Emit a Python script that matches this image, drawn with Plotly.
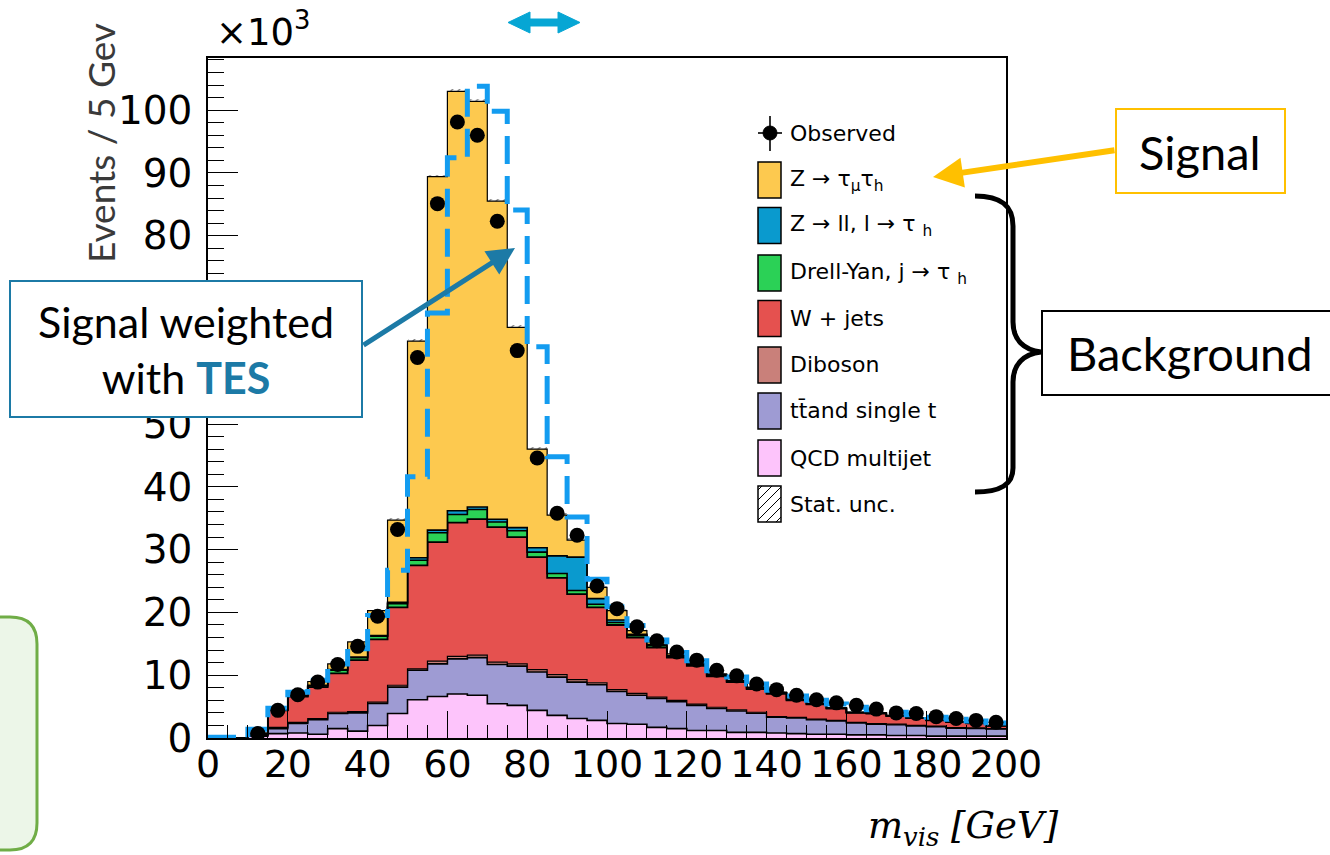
import plotly.graph_objects as go

# ---------------- data (values in thousands of events per 5 GeV bin) ----------------
bin_low = [0, 5, 10, 15, 20, 25, 30, 35, 40, 45, 50, 55, 60, 65, 70, 75, 80, 85, 90, 95,
           100, 105, 110, 115, 120, 125, 130, 135, 140, 145, 150, 155, 160, 165, 170, 175,
           180, 185, 190, 195]
bin_width = 5

qcd = [0, 0, 0.3, 0.7, 0.8, 0.6, 1.5, 1.1, 2.0, 3.9, 6.1, 6.6, 7.0, 6.8, 5.45, 5.2, 4.4, 3.6, 3.1, 2.8,
       2.3, 2.2, 1.7, 1.5, 1.2, 1.2, 0.9, 0.9, 0.8, 0.7, 0.6, 0.6, 0.5, 0.5, 0.4, 0.4, 0.3, 0.3, 0.3, 0.3]
ttbar = [0, 0, 0.15, 0.8, 1.5, 2.3, 2.4, 2.9, 3.5, 4.2, 4.7, 5.2, 5.6, 6.0, 6.25, 6.25, 6.1, 6.1, 5.8, 5.7,
         5.1, 4.6, 4.6, 4.3, 4.0, 3.5, 3.4, 3.05, 2.5, 2.5, 2.3, 2.1, 1.9, 1.7, 1.7, 1.5, 1.5, 1.28, 1.22, 1.13]
diboson = [0, 0, 0.05, 0.2, 0.2, 0.2, 0.2, 0.2, 0.2, 0.3, 0.2, 0.45, 0.4, 0.4, 0.4, 0.35, 0.4, 0.4, 0.4, 0.3,
           0.3, 0.3, 0.2, 0.2, 0.2, 0.2, 0.2, 0.15, 0.1, 0.1, 0.1, 0.1, 0.1, 0.1, 0.1, 0.1, 0.1, 0.07, 0.08, 0.07]
wjets = [0, 0, 0.2, 2.7, 4.1, 5.0, 6.2, 8.2, 10.0, 12.4, 16.5, 18.95, 21.3, 21.65, 21.5, 20.2, 17.9, 15.4, 13.6, 12.0,
         10.3, 8.9, 7.9, 6.8, 6.1, 4.9, 4.4, 3.7, 3.65, 2.7, 2.35, 1.88, 1.5, 1.6, 1.3, 1.15, 0.92, 0.87, 0.73, 0.43]
dy_jtau = [0, 0, 0, 0.05, 0.1, 0.2, 0.5, 0.4, 0.5, 0.6, 0.8, 1.5, 1.3, 1.55, 0.8, 1.0, 0.8, 0.7, 0.6, 0.5,
           0.4, 0.3, 0.3, 0.2, 0.2, 0.15, 0.1, 0.1, 0.1, 0.1, 0.07, 0.06, 0.05, 0.05, 0.05, 0.05, 0.04, 0.04, 0.03, 0.03]
zll = [0, 0, 0, 0.05, 0.05, 0.1, 0.1, 0.1, 0.1, 0.2, 0.4, 0.4, 0.6, 0.4, 0.45, 0.5, 0.7, 2.8, 5.3, 0.9,
       0.4, 0.2, 0.2, 0.1, 0.1, 0.1, 0.1, 0.1, 0.05, 0.05, 0.04, 0.03, 0.03, 0.02, 0.02, 0.02, 0.02, 0.02, 0.02, 0.02]
ztt = [0, 0, 0.05, 0, 0.05, 0.6, 0.9, 2.4, 4.0, 13.1, 34.5, 56.3, 66.8, 64.6, 50.65, 31.9, 15.7, 6.5, 2.7, 1.8,
       1.5, 0.6, 0.4, 0.3, 0.2, 0.15, 0.1, 0.1, 0.1, 0.05, 0.04, 0.03, 0.02, 0.03, 0.03, 0.03, 0.02, 0.02, 0.02, 0.02]
stat_unc = [0, 0, 0.05, 0.15, 0.15, 0.15, 0.15, 0.15, 0.15, 0.3, 0.3, 0.3, 0.3, 0.3, 0.3, 0.3, 0.3, 0.3, 0.3, 0.2,
            0.2, 0.2, 0.2, 0.2, 0.2, 0.2, 0.12, 0.12, 0.12, 0.12, 0.12, 0.12, 0.12, 0.12, 0.12, 0.12, 0.12, 0.12, 0.12, 0.12]
observed = [None, None, 0.7, 4.4, 6.9, 8.9, 11.7, 14.6, 19.4, 33.2, 60.6, 85.1, 98.1, 96.0, 82.3, 61.7, 44.6, 35.8, 32.3, 24.2,
            20.6, 17.7, 15.5, 13.7, 12.4, 10.8, 9.9, 8.6, 7.7, 6.8, 6.1, 5.6, 5.2, 4.6, 4.0, 3.9, 3.4, 3.1, 2.8, 2.5]
signal_tes = [0.1, 0.1, 1.4, 4.75, 7.3, 9.2, 11.8, 14.2, 19.5, 26.7, 41.6, 67.7, 92.4, 103.8, 99.8, 84.1, 62.3, 44.8, 35.2, 25.3,
              20.9, 17.9, 15.6, 13.6, 12.3, 10.7, 9.7, 8.6, 7.6, 6.7, 6.0, 5.4, 4.9, 4.5, 4.1, 3.7, 3.3, 3.0, 2.7, 2.4]

y_tick_vals = [0, 10, 20, 30, 40, 50, 60, 70, 80, 90, 100]
y_tick_text = ["0", "10", "20", "30", "40", "50", "", "", "80", "90", "100"]  # 60, 70 hidden behind callout

legend_labels = ["Observed", "Z → τ<sub>μ</sub>τ<sub>h</sub>", "Z → ll, l → τ <sub>h</sub>",
                 "Drell-Yan, j → τ <sub>h</sub>", "W + jets", "Diboson", "tt\u0304and single t",
                 "QCD multijet", "Stat. unc."]

# ---------------- styles ----------------
C_ZTT = "#fdc94f"
C_ZLL = "#0a9ace"
C_DY = "#2bd156"
C_W = "#e5514f"
C_VV = "#c9807a"
C_TT = "#9e9bd3"
C_QCD = "#fdc4fb"
C_TES = "#139cf0"
TEAL = "#1c7aa6"
GOLD = "#ffc000"

# plot area in pixels
L, R, T, B = 208, 1006, 58, 738


def px(x):
    return (x - L) / (R - L)


def py(y):
    return (B - y) / (B - T)


def path(points, close=False):
    s = "M " + " L ".join(f"{px(x):.5f},{py(y):.5f}" for x, y in points)
    return s + (" Z" if close else "")


edges_x = bin_low + [bin_low[-1] + bin_width]
centers = [b + bin_width / 2 for b in bin_low]


def step(vals):
    return list(vals) + [vals[-1]]


fig = go.Figure()

stack = [(qcd, C_QCD, 1.6), (ttbar, C_TT, 1.6), (diboson, C_VV, 1.2), (wjets, C_W, 1.8),
         (dy_jtau, C_DY, 1.6), (zll, C_ZLL, 1.6), (ztt, C_ZTT, 1.2)]
cum = [0.0] * len(bin_low)
for i, (vals, col, lw) in enumerate(stack):
    cum = [c + v for c, v in zip(cum, vals)]
    fig.add_trace(go.Scatter(
        x=edges_x, y=step(cum), mode="lines",
        line=dict(shape="hv", color="black", width=lw),
        fill="tozeroy" if i == 0 else "tonexty", fillcolor=col,
        showlegend=False, hoverinfo="skip"))

total = cum
fig.add_trace(go.Bar(
    x=centers, y=[2 * u for u in stat_unc], base=[t - u for t, u in zip(total, stat_unc)],
    width=bin_width,
    marker=dict(color="rgba(0,0,0,0)", line=dict(width=0),
                pattern=dict(shape="/", fgcolor="black", bgcolor="rgba(0,0,0,0)", size=5, solidity=0.25)),
    showlegend=False, hoverinfo="skip"))

fig.add_trace(go.Scatter(
    x=edges_x, y=step(signal_tes), mode="lines",
    line=dict(shape="hv", color=C_TES, width=5, dash="28px,12px"),
    showlegend=False, hoverinfo="skip"))

fig.add_trace(go.Scatter(
    x=centers, y=observed, mode="markers",
    marker=dict(color="black", size=15, symbol="circle"),
    showlegend=False, hoverinfo="skip"))

fig.update_layout(
    width=1330, height=855,
    margin=dict(l=L, r=1330 - R, t=T, b=855 - B),
    paper_bgcolor="white", plot_bgcolor="white",
    showlegend=False, bargap=0,
    xaxis=dict(range=[0, 200], dtick=20, tick0=0, ticks="inside", ticklen=27, tickwidth=1.3,
               tickcolor="black", showline=True, linecolor="black", linewidth=1.5, mirror=True,
               showgrid=False, zeroline=False, ticklabelstandoff=-8,
               tickfont=dict(family="DejaVu Sans", size=38, color="black"),
               minor=dict(dtick=5, ticks="inside", ticklen=13, tickwidth=1, tickcolor="black", showgrid=False)),
    yaxis=dict(range=[0, 108.3], tickmode="array", tickvals=y_tick_vals, ticktext=y_tick_text,
               ticks="inside", ticklen=30, tickwidth=1.3,
               tickcolor="black", showline=True, linecolor="black", linewidth=1.5, mirror=True,
               showgrid=False, zeroline=False, ticklabelstandoff=6,
               tickfont=dict(family="DejaVu Sans", size=39, color="black"),
               minor=dict(dtick=2, tick0=0, ticks="inside", ticklen=16, tickwidth=1, tickcolor="black",
                          showgrid=False)),
)

shapes = []
ann = []

# ---- manual legend (ROOT-style large swatches) ----
leg_y = [133, 180, 225.5, 273, 318.5, 365, 411, 458, 504]
sw_x0, sw_x1 = 758, 781
swatch_cols = [None, C_ZTT, C_ZLL, C_DY, C_W, C_VV, C_TT, C_QCD, None]
for k, (yc, lab) in enumerate(zip(leg_y, legend_labels)):
    ann.append(dict(x=px(788), y=py(yc), xref="paper", yref="paper", text=lab, showarrow=False,
                    xanchor="left", yanchor="middle", font=dict(family="DejaVu Sans", size=22, color="black")))
    if k == 0:
        shapes.append(dict(type="line", xref="paper", yref="paper", x0=px(770), x1=px(770),
                           y0=py(yc - 17), y1=py(yc + 18), line=dict(color="black", width=1.6)))
        shapes.append(dict(type="line", xref="paper", yref="paper", x0=px(758), x1=px(782),
                           y0=py(yc), y1=py(yc), line=dict(color="black", width=1.6)))
        shapes.append(dict(type="circle", xref="paper", yref="paper", x0=px(763), x1=px(777),
                           y0=py(yc - 7), y1=py(yc + 7), fillcolor="black", line=dict(color="black", width=1)))
    else:
        y0, y1 = yc - 18, yc + 18
        fillc = swatch_cols[k] if swatch_cols[k] else "white"
        shapes.append(dict(type="rect", xref="paper", yref="paper", x0=px(sw_x0), x1=px(sw_x1),
                           y0=py(y1), y1=py(y0), fillcolor=fillc, line=dict(color="black", width=1.5),
                           layer="above"))
        if swatch_cols[k] is None:
            c = sw_x0 + y0 + 4
            while c < sw_x1 + y1:
                xa = max(sw_x0, c - y1)
                xb = min(sw_x1, c - y0)
                if xb > xa:
                    shapes.append(dict(type="line", xref="paper", yref="paper",
                                       x0=px(xa), y0=py(c - xa), x1=px(xb), y1=py(c - xb),
                                       line=dict(color="black", width=1), layer="above"))
                c += 10

# ---- x10^3 and axis titles ----
ann.append(dict(x=px(214), y=py(30), xref="paper", yref="paper", text="×10<sup>3</sup>", showarrow=False,
                xanchor="left", yanchor="middle", font=dict(family="DejaVu Sans", size=37, color="black")))
ann.append(dict(x=px(100), y=py(143), xref="paper", yref="paper", text="Events / 5 Gev", showarrow=False,
                textangle=-90, xanchor="center", yanchor="middle",
                font=dict(family="Lato", size=37, color="#3a3a3a")))
ann.append(dict(x=px(866), y=py(828), xref="paper", yref="paper", text="<i>m<sub>vis</sub> [GeV]</i>",
                showarrow=False, xanchor="left", yanchor="middle",
                font=dict(family="DejaVu Serif", size=37, color="black")))

# ---- TES callout ----
shapes.append(dict(type="rect", xref="paper", yref="paper", x0=px(10), x1=px(362), y0=py(417), y1=py(281),
                   fillcolor="white", line=dict(color=TEAL, width=2), layer="above"))
ann.append(dict(x=px(186), y=py(349), xref="paper", yref="paper",
                text=f"Signal weighted<br>with <b><span style='color:{TEAL}'>TES</span></b>",
                showarrow=False, xanchor="center", yanchor="middle", align="center",
                font=dict(family="Lato", size=43, color="black")))
ann.append(dict(x=px(515), y=py(248), xref="paper", yref="paper", text="", showarrow=True,
                ax=362 - 515, ay=346 - 248, arrowhead=2, arrowsize=1.1, arrowwidth=5,
                arrowcolor=TEAL, standoff=0))

# ---- Signal callout ----
shapes.append(dict(type="rect", xref="paper", yref="paper", x0=px(1116), x1=px(1285), y0=py(193), y1=py(109),
                   fillcolor="white", line=dict(color=GOLD, width=2), layer="above"))
ann.append(dict(x=px(1200), y=py(152), xref="paper", yref="paper", text="Signal", showarrow=False,
                xanchor="center", yanchor="middle", font=dict(family="Lato", size=47, color="black")))
ann.append(dict(x=px(933), y=py(177), xref="paper", yref="paper", text="", showarrow=True,
                ax=1116 - 933, ay=150 - 177, arrowhead=2, arrowsize=1.0, arrowwidth=6,
                arrowcolor=GOLD, standoff=0))

# ---- Background callout and brace ----
shapes.append(dict(type="rect", xref="paper", yref="paper", x0=px(1042), x1=px(1345), y0=py(395), y1=py(311),
                   fillcolor="white", line=dict(color="black", width=2), layer="above"))
ann.append(dict(x=px(1190), y=py(353), xref="paper", yref="paper", text="Background", showarrow=False,
                xanchor="center", yanchor="middle", font=dict(family="Lato", size=47, color="black")))

brace = (f"M {px(975):.5f},{py(196):.5f} "
         f"C {px(1000):.5f},{py(196):.5f} {px(1013):.5f},{py(205):.5f} {px(1013):.5f},{py(226):.5f} "
         f"L {px(1013):.5f},{py(322):.5f} "
         f"C {px(1013):.5f},{py(340):.5f} {px(1024):.5f},{py(350):.5f} {px(1041):.5f},{py(352):.5f} "
         f"C {px(1024):.5f},{py(354):.5f} {px(1013):.5f},{py(364):.5f} {px(1013):.5f},{py(382):.5f} "
         f"L {px(1013):.5f},{py(468):.5f} "
         f"C {px(1013):.5f},{py(485):.5f} {px(1000):.5f},{py(492):.5f} {px(975):.5f},{py(492):.5f}")
shapes.append(dict(type="path", xref="paper", yref="paper", path=brace,
                   line=dict(color="black", width=5), layer="above"))

# ---- cyan double arrow at top ----
dbl = [(508, 22.5), (530, 12), (530, 19), (558, 19), (558, 12), (580, 22.5),
       (558, 33), (558, 26), (530, 26), (530, 33)]
shapes.append(dict(type="path", xref="paper", yref="paper", path=path(dbl, close=True),
                   fillcolor="#06a6d4", line=dict(color="#06a6d4", width=1), layer="above"))

# ---- green rounded box at left ----
gbox = (f"M {px(-10):.5f},{py(617):.5f} L {px(10):.5f},{py(617):.5f} "
        f"Q {px(37):.5f},{py(617):.5f} {px(37):.5f},{py(644):.5f} "
        f"L {px(37):.5f},{py(823):.5f} Q {px(37):.5f},{py(850):.5f} {px(10):.5f},{py(850):.5f} "
        f"L {px(-10):.5f},{py(850):.5f} Z")
shapes.append(dict(type="path", xref="paper", yref="paper", path=gbox,
                   fillcolor="#ecf6e8", line=dict(color="#70ad47", width=3), layer="above"))

fig.update_layout(shapes=shapes, annotations=ann)

fig.write_html("out.html", config={"displayModeBar": False},
               post_script="document.body.style.margin='0px';")
